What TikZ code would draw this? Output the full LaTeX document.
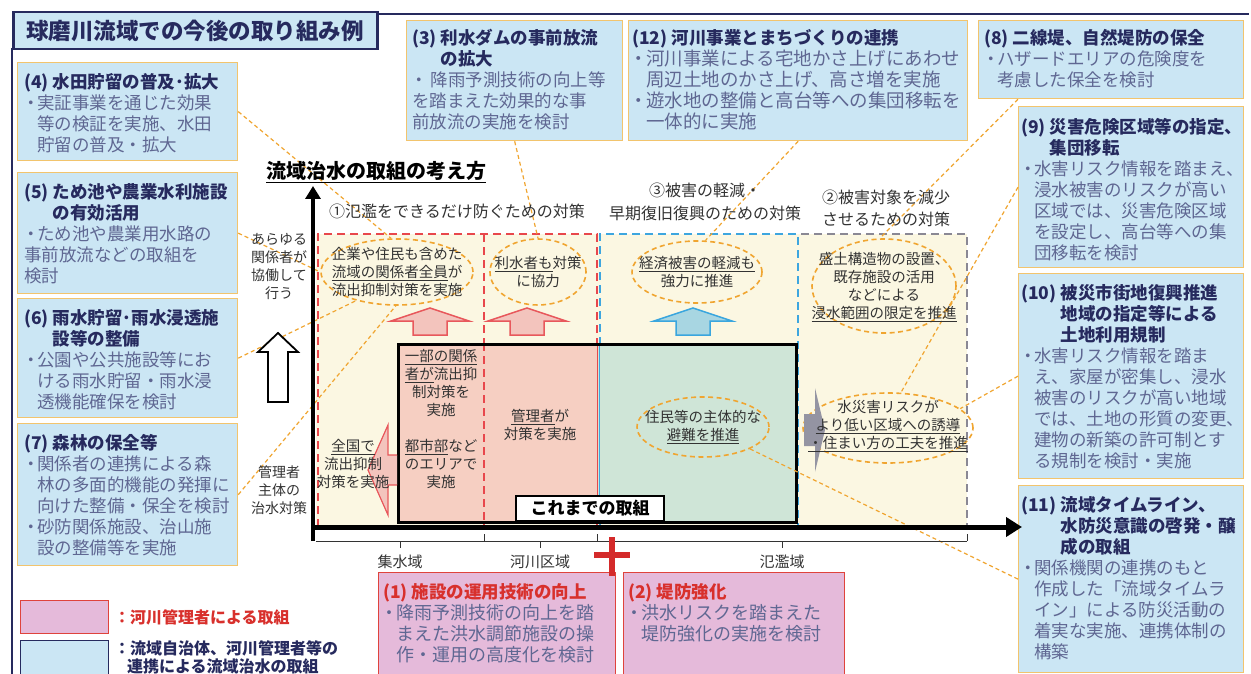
\documentclass[tikz,border=0pt]{standalone}
\usepackage{fontspec}
\setmainfont{Noto Sans CJK JP}
\usetikzlibrary{shapes.geometric,arrows.meta}
\definecolor{navy}{HTML}{262A5E}
\definecolor{boxbl}{HTML}{CBE6F4}
\definecolor{boxor}{HTML}{F2C46D}
\definecolor{pinkf}{HTML}{E5BADA}
\definecolor{redb}{HTML}{DF433C}
\definecolor{redt}{HTML}{D8302C}
\definecolor{bodyc}{HTML}{5F6792}
\definecolor{cream}{HTML}{FBF7E2}
\definecolor{salmon}{HTML}{F6CFC2}
\definecolor{greenf}{HTML}{CFE5D7}
\definecolor{ellor}{HTML}{F0A530}
\definecolor{redd}{HTML}{E8474C}
\definecolor{blued}{HTML}{3DA6DF}
\definecolor{greyd}{HTML}{8A8894}
\definecolor{arred}{HTML}{E8585C}
\definecolor{arpink}{HTML}{F3C4BD}
\definecolor{arblue}{HTML}{3AA6DE}
\definecolor{arbluef}{HTML}{A8D6E2}
\definecolor{arrgrey}{HTML}{9494A2}
\definecolor{dtext}{HTML}{333333}
\definecolor{crossred}{HTML}{D42A2A}
\newcommand\mybu{\makebox[0.75em][c]{・}}
\newcommand\myind{\hspace*{0.75em}}
\newcommand\myttl[1]{{\fontsize{17.5}{21}\selectfont\bfseries\color{navy}#1}}
\newcommand\myttlr[1]{{\fontsize{17.5}{21}\selectfont\bfseries\color{redt}#1}}
\begin{document}
\begin{tikzpicture}[x=1pt,y=-1pt,
  bbox/.style={draw=boxor, fill=boxbl, line width=1.3pt, anchor=north west, inner sep=0pt},
  pbox/.style={draw=redb, fill=pinkf, line width=1.3pt, anchor=north west, inner sep=0pt},
  btx/.style={anchor=north west, inner sep=0pt, align=left, text=bodyc, font=\fontsize{17.5}{21}\selectfont},
  dtx/.style={inner sep=0pt, align=center, text=dtext, font=\fontsize{14.5}{18}\selectfont},
  ell/.style={ellipse, draw=ellor, dash pattern=on 5pt off 3.5pt, line width=1.6pt, inner sep=0pt},
  lead/.style={draw=ellor, dash pattern=on 4pt off 3pt, line width=1.2pt},
  regd/.style={line width=2pt, dash pattern=on 8pt off 5pt},
  uparr/.pic={\path[pic actions] (-39,0) -- (0,-13) -- (39,0) -- (17,0) -- (17,14) -- (-17,14) -- (-17,0) -- cycle;}
]
\useasboundingbox (0,0) rectangle (1251,674);
\fill[white] (0,0) rectangle (1251,674);

% frame
\coordinate (fr1) at (377,14); \coordinate (fr2) at (1249,14);
\coordinate (fr3) at (12,48); \coordinate (fr4) at (12,680);
\draw[navy, line width=1.5pt] (fr1) -- (fr2);
\draw[navy, line width=1.5pt] (fr3) -- (fr4);
\node[draw=navy, fill=boxbl, line width=2.5pt, minimum width=364pt, minimum height=37pt, anchor=north west, inner sep=0pt] (title) at (12,11) {};
\node[font=\fontsize{22.5}{26}\selectfont\bfseries, text=navy, inner sep=0pt] (titlet) at (title.center) {球磨川流域での今後の取り組み例};

% regions
\fill[cream] (316,234) rectangle (967,527);
\draw[redd, regd] (318,527) -- (318,234) -- (597,234) -- (597,527);
\draw[redd, regd] (484,234) -- (484,527);
\draw[blued, regd] (600,527) -- (600,234) -- (798,234) -- (798,527);
\draw[greyd, regd] (801,234) -- (967,234) -- (967,527);
\fill[salmon] (397,343) rectangle (597,521);
\fill[greenf] (597,343) rectangle (795,521);
\draw[redd, regd] (484,343) -- (484,521);
\draw[redd, line width=1pt] (597,343) -- (597,521);
\draw[blued, line width=0.8pt] (599,343) -- (599,521);
\node[draw=black, line width=3pt, minimum width=398pt, minimum height=178pt, anchor=north west, inner sep=0pt] (past) at (397,343) {};

% boxes (drawn as nodes)
\node[bbox, minimum width=220pt, minimum height=98pt] (b4) at (17,62) {};
\node[bbox, minimum width=220pt, minimum height=121pt] (b5) at (17,172) {};
\node[bbox, minimum width=220pt, minimum height=119pt] (b6) at (17,298) {};
\node[bbox, minimum width=220pt, minimum height=142pt] (b7) at (17,423) {};
\node[bbox, minimum width=216pt, minimum height=120pt] (b3) at (406,20) {};
\node[bbox, minimum width=339pt, minimum height=120pt] (b12) at (628,20) {};
\node[bbox, minimum width=265pt, minimum height=78pt] (b8) at (978,20) {};
\node[bbox, minimum width=225pt, minimum height=161pt] (b9) at (1018,106) {};
\node[bbox, minimum width=225pt, minimum height=205pt] (b10) at (1018,273) {};
\node[bbox, minimum width=225pt, minimum height=187pt] (b11) at (1018,485) {};
\node[pbox, minimum width=237pt, minimum height=102pt] (p1) at (378,572) {};
\node[pbox, minimum width=221pt, minimum height=102pt] (p2) at (623,572) {};

% ellipses
\node[ell, minimum width=152pt, minimum height=66pt] (e1) at (397,272) {};
\node[ell, minimum width=96pt, minimum height=66pt] (e2) at (538,272) {};
\node[ell, minimum width=130pt, minimum height=62pt] (e3) at (697,272) {};
\node[ell, minimum width=144pt, minimum height=94pt] (e4) at (884,286) {};
\node[ell, minimum width=132pt, minimum height=60pt] (e5) at (703,427) {};
\node[ell, minimum width=170pt, minimum height=70pt] (e6) at (888,428) {};

% leaders
\draw[lead] (b4.east) -- (e1.100);
\draw[lead] (b5.east) -- (e1.180);
\draw[lead] (b6.east) -- (e1.215);
\draw[lead] (b7.east) -- (e1.268);
\draw[lead] (b3.south) -- (e2.north);
\draw[lead] (b12.south) -- (e3.75);
\draw[lead] (b8.south -| b9.west) -- (e4.95);
\draw[lead] (b9.west) -- (e6.70);
\draw[lead] (b10.west) -- (e6.15);
\draw[lead] (b11.west) -- (e5.-25);

% block arrows
\pic[draw=arred, fill=arpink, line width=1.5pt] (ua1) at (430,321) {uparr};
\pic[draw=arred, fill=arpink, line width=1.5pt] (ua2) at (527,321) {uparr};
\pic[draw=arblue, fill=arbluef, line width=1.5pt] (ua3) at (693,321) {uparr};
\path[draw=black, fill=white, line width=1.8pt] (258,352) -- (278,333) -- (298,352) -- (288,352) -- (288,402) -- (268,402) -- (268,352) -- cycle;
\path[draw=arred, fill=arpink, line width=1.2pt] (397,455) -- (388,455) -- (388,425) -- (368,470) -- (388,515) -- (388,485) -- (397,485);
\path[fill=arrgrey] (804,414) -- (815,414) -- (815,388) -- (825,430) -- (815,472) -- (815,446) -- (804,446) -- cycle;

% axes
\coordinate (yb) at (313,541); \coordinate (yt) at (313,186);
\coordinate (xl) at (311,527); \coordinate (xr) at (1022,527);
\draw[line width=4.5pt, -{Triangle[length=13pt,width=15pt]}] (yb) -- (yt);
\draw[line width=5pt, -{Triangle[length=16pt,width=19pt]}] (xl) -- (xr);
\draw[dtext, line width=1pt] (316,541) -- (967,541);
\foreach \xx in {484,597,967} \draw[dtext, line width=1pt] (\xx,541) -- (\xx,534);
\foreach \xx in {400,540,782} \draw[dtext, line width=1pt] (\xx,541) -- (\xx,548);
\draw[crossred, line width=6pt] (612,537) -- (612,576);
\draw[crossred, line width=6pt] (594,555) -- (630,555);

% diagram texts
\node[anchor=west, font=\fontsize{20}{24}\selectfont\bfseries, inner sep=0pt] (head) at (266,172) {\underline{流域治水の取組の考え方}};
\node[dtx, font=\fontsize{16}{20}\selectfont, anchor=west] (c1) at (329,211) {①氾濫をできるだけ防ぐための対策};
\node[dtx, font=\fontsize{16}{23}\selectfont] (c3) at (705,202) {③被害の軽減・\\早期復旧復興のための対策};
\node[dtx, font=\fontsize{16}{22}\selectfont] (c2) at (886,208) {②被害対象を減少\\させるための対策};
\node[dtx] (t1) at (397,272) {企業や住民も含めた\\\underline{流域の関係者全員}が\\流出抑制対策を実施};
\node[dtx] (t2) at (538,272) {\underline{利水者も}対策\\に協力};
\node[dtx] (t3) at (697,272) {\underline{経済被害の軽減も}\\強力に推進};
\node[dtx] (t4) at (884,287) {盛土構造物の設置、\\既存施設の活用\\などによる\\\underline{浸水範囲の限定を推進}};
\node[dtx] (t5) at (703,427) {住民等の主体的な\\\underline{避難を推進}};
\node[dtx] (t6) at (888,426) {水災害リスクが\\\underline{より低い区域への誘導}\\\underline{・住まい方の工夫を推進}};
\node[dtx] (t7) at (441,383) {\underline{一部の関係}\\\underline{者が}流出抑\\制対策を\\実施};
\node[dtx] (t8) at (441,464) {\underline{都市部}など\\のエリアで\\実施};
\node[dtx] (t9) at (540,425) {\underline{管理者}が\\対策を実施};
\node[dtx] (t10) at (353,464) {\underline{全国で}\\流出抑制\\対策を実施};
\node[dtx, font=\fontsize{14}{18}\selectfont] (t11) at (279,267) {あらゆる\\関係者が\\協働して\\行う};
\node[dtx, font=\fontsize{14}{18}\selectfont] (t12) at (279,490) {管理者\\主体の\\治水対策};
\node[draw=black, fill=white, line width=2pt, minimum width=148pt, minimum height=25pt, inner sep=0pt, font=\fontsize{17}{20}\selectfont\bfseries] (pastlbl) at (590,508.5) {これまでの取組};
\node[dtx, font=\fontsize{15}{18}\selectfont] (l1) at (400,562) {集水域};
\node[dtx, font=\fontsize{15}{18}\selectfont] (l2) at (540,562) {河川区域};
\node[dtx, font=\fontsize{15}{18}\selectfont] (l3) at (782,562) {氾濫域};

% box texts
\node[btx] (b4t) at ([shift={(7,11)}]b4.north west) {\myttl{(4) 水田貯留の普及･拡大}\\\mybu 実証事業を通じた効果\\\myind 等の検証を実施、水田\\\myind 貯留の普及・拡大};
\node[btx] (b5t) at ([shift={(7,11)}]b5.north west) {\myttl{(5) ため池や農業水利施設}\\\myttl{\phantom{(5) }の有効活用}\\\mybu ため池や農業用水路の\\事前放流などの取組を\\検討};
\node[btx] (b6t) at ([shift={(7,11)}]b6.north west) {\myttl{(6) 雨水貯留･雨水浸透施}\\\myttl{\phantom{(6) }設等の整備}\\\mybu 公園や公共施設等にお\\\myind ける雨水貯留・雨水浸\\\myind 透機能確保を検討};
\node[btx] (b7t) at ([shift={(7,11)}]b7.north west) {\myttl{(7) 森林の保全等}\\\mybu 関係者の連携による森\\\myind 林の多面的機能の発揮に\\\myind 向けた整備・保全を検討\\\mybu 砂防関係施設、治山施\\\myind 設の整備等を実施};
\node[btx] (b3t) at ([shift={(6,9)}]b3.north west) {\myttl{(3) 利水ダムの事前放流}\\\myttl{\phantom{(3) }の拡大}\\\mybu\hspace{0.3em}降雨予測技術の向上等\\を踏まえた効果的な事\\前放流の実施を検討};
\node[btx, font=\fontsize{18.5}{21}\selectfont] (b12t) at ([shift={(4,9)}]b12.north west) {\myttl{(12) 河川事業とまちづくりの連携}\\\mybu 河川事業による宅地かさ上げにあわせ\\\myind 周辺土地のかさ上げ、高さ増を実施\\\mybu 遊水地の整備と高台等への集団移転を\\\myind 一体的に実施};
\node[btx] (b8t) at ([shift={(6,9)}]b8.north west) {\myttl{(8) 二線堤、自然堤防の保全}\\\mybu ハザードエリアの危険度を\\\myind 考慮した保全を検討};
\node[btx] (b9t) at ([shift={(3,12)}]b9.north west) {\myttl{(9) 災害危険区域等の指定、}\\\myttl{\phantom{(9) }集団移転}\\\mybu 水害リスク情報を踏まえ、\\\myind 浸水被害のリスクが高い\\\myind 区域では、災害危険区域\\\myind を設定し、高台等への集\\\myind 団移転を検討};
\node[btx] (b10t) at ([shift={(3,11)}]b10.north west) {\myttl{(10) 被災市街地復興推進}\\\myttl{\phantom{(10) }地域の指定等による}\\\myttl{\phantom{(10) }土地利用規制}\\\mybu 水害リスク情報を踏ま\\\myind え、家屋が密集し、浸水\\\myind 被害のリスクが高い地域\\\myind では、土地の形質の変更、\\\myind 建物の新築の許可制とす\\\myind る規制を検討・実施};
\node[btx] (b11t) at ([shift={(3,11)}]b11.north west) {\myttl{(11) 流域タイムライン、}\\\myttl{\phantom{(11) }水防災意識の啓発・醸}\\\myttl{\phantom{(11) }成の取組}\\\mybu 関係機関の連携のもと\\\myind 作成した「流域タイムラ\\\myind イン」による防災活動の\\\myind 着実な実施、連携体制の\\\myind 構築};
\node[btx, font=\fontsize{18}{21}\selectfont] (p1t) at ([shift={(5,11)}]p1.north west) {\myttlr{(1) 施設の運用技術の向上}\\\mybu 降雨予測技術の向上を踏\\\myind まえた洪水調節施設の操\\\myind 作・運用の高度化を検討};
\node[btx, font=\fontsize{18}{21}\selectfont] (p2t) at ([shift={(5,11)}]p2.north west) {\myttlr{(2) 堤防強化}\\\mybu 洪水リスクを踏まえた\\\myind 堤防強化の実施を検討};

% legend
\node[pbox, minimum width=88pt, minimum height=33pt] (lg1) at (20,600) {};
\node[anchor=west, inner sep=0pt, font=\fontsize{16}{20}\selectfont\bfseries, text=redt] (lg1t) at (114,617) {：河川管理者による取組};
\node[draw=navy, fill=boxbl, line width=1.3pt, anchor=north west, inner sep=0pt, minimum width=88pt, minimum height=40pt] (lg2) at (20,640) {};
\node[anchor=north west, inner sep=0pt, align=left, font=\fontsize{16}{18}\selectfont\bfseries, text=navy] (lg2t) at (114,640) {：流域自治体、河川管理者等の\\\hspace*{0.8em}連携による流域治水の取組};
\end{tikzpicture}
\end{document}
